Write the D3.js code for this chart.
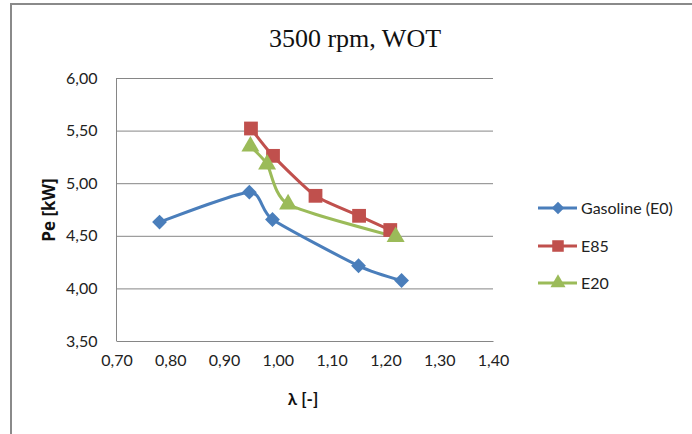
<!DOCTYPE html>
<html><head><meta charset="utf-8">
<script src="https://cdn.jsdelivr.net/npm/d3@7/dist/d3.min.js"></script>
<style>body{margin:0;background:#fff;} svg{display:block;}</style>
</head><body>
<svg id="c" width="692" height="434"></svg>
<script>
const title = "3500 rpm, WOT";
const xTicks = [0.70, 0.80, 0.90, 1.00, 1.10, 1.20, 1.30, 1.40];
const yTicks = [3.50, 4.00, 4.50, 5.00, 5.50, 6.00];
const seriesNames = ["Gasoline (E0)", "E85", "E20"];
const seriesColors = ["#4A7EBB", "#C0504D", "#9BBB59"];
const seriesMarkers = ["diamond", "square", "triangle"];
const gasolineX = [0.78, 0.947, 0.99, 1.15, 1.23];
const gasolineY = [4.63, 4.915, 4.655, 4.215, 4.075];
const e85X = [0.95, 0.991, 1.07, 1.151, 1.209];
const e85Y = [5.52, 5.26, 4.88, 4.69, 4.555];
const e20X = [0.949, 0.98, 1.019, 1.219];
const e20Y = [5.35, 5.18, 4.80, 4.49];

const series = [
  {name: seriesNames[0], color: seriesColors[0], marker: seriesMarkers[0], pts: gasolineX.map((x,i)=>({x, y: gasolineY[i]}))},
  {name: seriesNames[1], color: seriesColors[1], marker: seriesMarkers[1], pts: e85X.map((x,i)=>({x, y: e85Y[i]}))},
  {name: seriesNames[2], color: seriesColors[2], marker: seriesMarkers[2], pts: e20X.map((x,i)=>({x, y: e20Y[i]}))}
];

const svg = d3.select("#c");
const fmt = v => v.toFixed(2).replace(".", ",");
const lblFont = "Lato, 'Open Sans', sans-serif";

// outer frame
svg.append("rect").attr("x", 11).attr("y", 4).attr("width", 700).attr("height", 450)
  .attr("fill", "none").attr("stroke", "#8a8a8a").attr("stroke-width", 2);

const x = d3.scaleLinear().domain([0.70, 1.40]).range([116.5, 493]);
const y = d3.scaleLinear().domain([3.50, 6.00]).range([341, 78]);

// gridlines
const yAxis = d3.axisLeft(y).tickValues(yTicks).tickSize(-(x.range()[1]-x.range()[0])).tickFormat(fmt).tickPadding(10);
const gy = svg.append("g").attr("transform", `translate(${x.range()[0]},0)`).call(yAxis);
gy.select(".domain").remove();
gy.selectAll(".tick line").attr("stroke", "#868686").attr("stroke-width", 1);
gy.selectAll(".tick text").attr("font-family", lblFont).attr("font-size", 16).attr("fill", "#222").attr("x", -19);

const xAxis = d3.axisBottom(x).tickValues(xTicks).tickSize(0).tickFormat(fmt).tickPadding(14);
const gx = svg.append("g").attr("transform", `translate(0,${y.range()[0]})`).call(xAxis);
gx.select(".domain").attr("stroke", "#868686");
gx.selectAll(".tick text").attr("font-family", lblFont).attr("font-size", 16).attr("fill", "#222");

// left axis line
svg.append("line").attr("x1", x.range()[0]).attr("x2", x.range()[0]).attr("y1", y.range()[1]).attr("y2", y.range()[0])
  .attr("stroke", "#868686");

// title
svg.append("text").attr("x", 355).attr("y", 47).attr("text-anchor", "middle")
  .attr("font-family", "'Liberation Serif', 'Times New Roman', serif").attr("font-size", 26).attr("fill", "#111").text(title);

// axis titles
svg.append("text").attr("x", 303).attr("y", 405).attr("text-anchor", "middle")
  .attr("font-family", lblFont).attr("font-weight", "bold").attr("font-size", 17).attr("fill", "#111").text("λ [-]");
svg.append("text").attr("transform", "translate(55,210) rotate(-90)").attr("text-anchor", "middle")
  .attr("font-family", "'Open Sans', sans-serif").attr("font-weight", "bold").attr("font-size", 17).attr("fill", "#111").text("Pe [kW]");

const symType = {diamond: d3.symbolSquare, square: d3.symbolSquare, triangle: d3.symbolTriangle};
const symSize = {diamond: 110, square: 190, triangle: 140};
const symRot = {diamond: 45, square: 0, triangle: 0};

const line = d3.line().x(d => x(d.x)).y(d => y(d.y)).curve(d3.curveCardinal.tension(0.35));

series.forEach(s => {
  svg.append("path").attr("d", line(s.pts)).attr("fill", "none").attr("stroke", s.color)
    .attr("stroke-width", 3).attr("stroke-linejoin", "round").attr("stroke-linecap", "round");
});
series.forEach(s => {
  svg.append("g").selectAll("path").data(s.pts).join("path")
    .attr("transform", d => `translate(${x(d.x)},${y(d.y)}) rotate(${symRot[s.marker]})`)
    .attr("d", d3.symbol().type(symType[s.marker]).size(symSize[s.marker]))
    .attr("fill", s.color);
});

// legend
const legY = [208, 246, 283];
series.forEach((s, i) => {
  const g = svg.append("g").attr("transform", `translate(538,${legY[i]})`);
  g.append("line").attr("x1", 0).attr("x2", 39).attr("y1", 0).attr("y2", 0).attr("stroke", s.color).attr("stroke-width", 3);
  g.append("path").attr("transform", `translate(20,0) rotate(${symRot[s.marker]})`)
    .attr("d", d3.symbol().type(symType[s.marker]).size(symSize[s.marker]*0.7)).attr("fill", s.color);
  g.append("text").attr("x", 43).attr("y", 0).attr("dy", "0.35em").attr("font-family", lblFont)
    .attr("font-size", 16).attr("fill", "#222").text(s.name);
});
</script>
</body></html>
